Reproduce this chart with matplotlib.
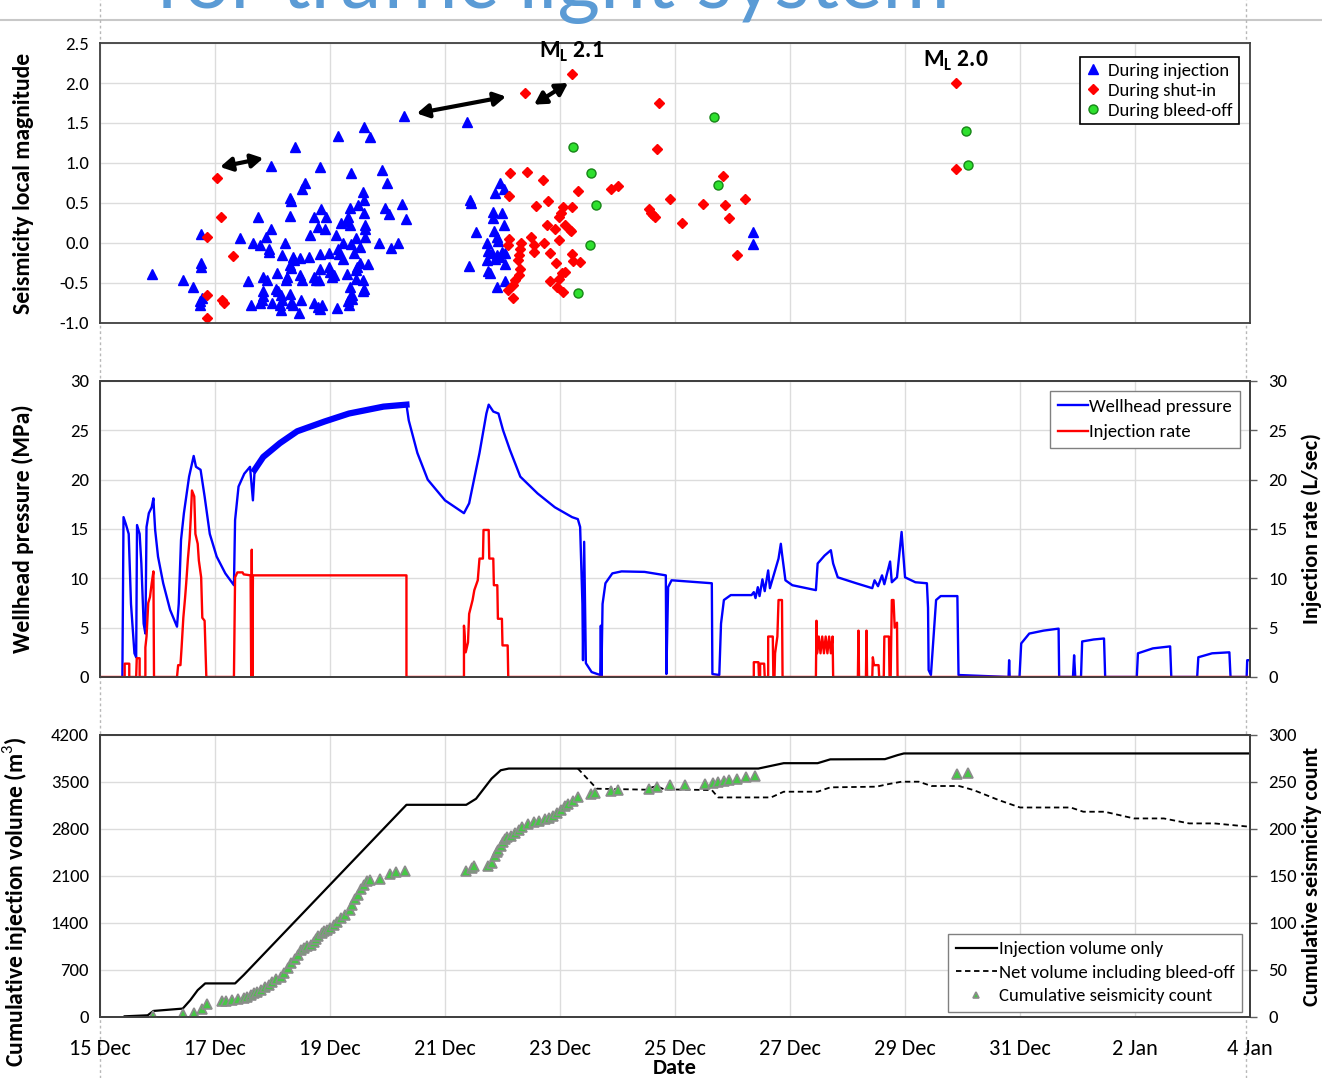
import numpy as np
import matplotlib
matplotlib.use('Agg')
import matplotlib.pyplot as plt
from matplotlib import font_manager
from matplotlib.lines import Line2D

available = {f.name for f in font_manager.fontManager.ttflist}
base_font = next(f for f in ['Liberation Sans Narrow', 'Carlito', 'Liberation Sans', 'DejaVu Sans']
                 if f in available)
title_font = next(f for f in ['Lato', 'Open Sans', 'DejaVu Sans'] if f in available)
plt.rcParams['font.family'] = [base_font, 'DejaVu Sans']
plt.rcParams['mathtext.fontset'] = 'custom'
plt.rcParams['mathtext.rm'] = base_font
plt.rcParams['mathtext.bf'] = base_font + ':bold'

# x values are days after 15 Dec 00:00
tick_days = [0, 2, 4, 6, 8, 10, 12, 14, 16, 18, 20]
tick_labels = ['15 Dec', '17 Dec', '19 Dec', '21 Dec', '23 Dec', '25 Dec',
               '27 Dec', '29 Dec', '31 Dec', '2 Jan', '4 Jan']

# --- seismic events (time, local magnitude) ---
inj_t = [0.91, 1.45, 1.61, 1.75, 1.76, 1.76, 1.77, 1.74, 1.74,
         2.43, 2.57, 2.63, 2.66, 2.74, 2.78, 2.78, 2.83, 2.83, 2.83, 2.82, 2.88, 2.90, 2.94, 2.94, 2.97, 2.97,
         3.00, 3.06, 3.08, 3.10, 3.13, 3.14, 3.15, 3.16, 3.17, 3.21, 3.23, 3.26, 3.30, 3.32, 3.30, 3.30, 3.32,
         3.30, 3.33, 3.36, 3.36, 3.37, 3.39, 3.47, 3.48, 3.48, 3.49, 3.52, 3.52, 3.57,
         3.64, 3.66, 3.72, 3.72, 3.73, 3.76, 3.80, 3.80, 3.81, 3.82, 3.83, 3.83, 3.83, 3.84, 3.87, 3.92, 3.93,
         3.98, 3.99, 4.00,
         4.03, 4.07, 4.10, 4.12, 4.14, 4.14, 4.16, 4.20, 4.22, 4.23, 4.29, 4.29, 4.32, 4.32, 4.33, 4.34, 4.34,
         4.34, 4.35, 4.36, 4.37, 4.38, 4.39, 4.41, 4.45, 4.46, 4.46, 4.47, 4.49, 4.52, 4.53, 4.57, 4.58, 4.58,
         4.59, 4.59, 4.59, 4.59, 4.61, 4.61, 4.61, 4.66, 4.70,
         4.86, 4.90, 4.96, 4.99, 5.03, 5.06, 5.19, 5.26, 5.29, 5.32,
         6.39, 6.41, 6.43, 6.45, 6.54, 6.73, 6.73, 6.75, 6.75, 6.78, 6.81, 6.84, 6.84, 6.85, 6.87, 6.87, 6.90,
         6.90, 6.90, 6.93, 6.96, 6.96, 6.99, 7.00, 7.02, 7.03, 7.04, 7.04, 7.04,
         11.35, 11.36]
inj_m = [-0.39, -0.46, -0.55, 0.11, -0.25, -0.30, -0.69, -0.73, -0.78,
         0.06, -0.48, -0.78, 0.00, 0.32, -0.02, -0.75, -0.43, -0.60, -0.66, -0.71, 0.08, -0.46, -0.07, -0.11,
         0.18, 0.96,
         -0.75, -0.57, -0.38, -0.60, -0.78, -0.84, -0.65, -0.71, -0.15, 0.00, -0.46, -0.43, 0.56, 0.52, 0.34,
         -0.28, -0.31, -0.64, -0.75, -0.78, -0.17, -0.21, 1.20, -0.88, -0.19, -0.40, -0.71, -0.46, 0.68, 0.75,
         -0.18, 0.10, -0.43, -0.75, 0.32, -0.46, 0.20, -0.80, -0.46, 0.95, -0.14, -0.32, -0.82, 0.43, -0.78,
         0.18, 0.32, -0.30, -0.12, -0.36,
         -0.43, -0.40, 0.10, -0.81, -0.07, 1.34, -0.14, 0.25, 0.00, -0.20, 0.27, -0.39, 0.33, -0.73, -0.78,
         0.44, -0.55, -0.67, 0.23, -0.01, 0.88, -0.65, -0.70, -0.13, -0.34, 0.06, -0.45, -0.30, 0.47, -0.25,
         -0.05, -0.60, 0.64, -0.46, 0.54, 0.38, -0.57, 1.45, 0.23, 0.18, 0.08, -0.26, 1.32,
         0.00, 0.91, 0.44, 0.75, 0.36, -0.06, 0.00, 0.49, 1.59, 0.30,
         1.51, -0.29, 0.54, 0.50, 0.14, 0.00, -0.21, -0.10, -0.35, -0.38, -0.13, 0.39, 0.31, 0.15, 0.62, -0.20,
         0.08, -0.15, -0.55, 0.02, 0.75, -0.18, -0.11, 0.38, 0.23, 0.68, -0.12, -0.26, -0.48,
         0.14, -0.01]

shut_t = [1.86, 1.87, 1.87, 2.03, 2.10, 2.12, 2.16, 2.32,
          7.10, 7.10, 7.11, 7.12, 7.13, 7.19, 7.19, 7.22, 7.27, 7.29, 7.29, 7.30, 7.30, 7.32, 7.39, 7.43, 7.50,
          7.54, 7.55, 7.58, 7.71, 7.73, 7.77, 7.80, 7.83, 7.83, 7.91, 7.93, 7.94, 7.98, 7.98, 7.99, 8.02, 8.04,
          8.06, 8.06, 8.09, 8.09, 8.17, 8.19, 8.20, 8.21, 8.21, 8.23, 8.32, 8.34,
          8.88, 9.01, 9.54, 9.58, 9.62, 9.66, 9.69, 9.73, 9.91, 10.13, 10.49, 10.84, 10.87, 10.94, 11.08, 11.22,
          14.89, 14.89]
shut_m = [-0.65, 0.07, -0.94, 0.81, 0.32, -0.71, -0.75, -0.16,
          -0.59, -0.03, 0.05, 0.59, 0.88, -0.53, -0.69, -0.46, -0.21, -0.15, -0.40, -0.07, -0.32, 0.00, 1.87,
          0.89, 0.07, -0.11, -0.02, 0.46, 0.79, 0.00, 0.22, 0.52, -0.12, -0.48, 0.18, -0.25, -0.55, 0.32, 0.04,
          -0.45, 0.38, -0.38, 0.45, -0.61, 0.23, -0.36, 0.16, 0.15, 2.11, 0.45, -0.14, -0.23, 0.65, -0.24,
          0.68, 0.71, 0.43, 0.38, 0.35, 0.32, 1.17, 1.75, 0.55, 0.25, 0.49, 0.84, 0.48, 0.31, -0.15, 0.55,
          2.00, 0.93]

bleed_t = [8.23, 8.31, 8.52, 8.54, 8.63, 10.67, 10.74, 15.06, 15.10]
bleed_m = [1.20, -0.62, -0.02, 0.88, 0.47, 1.57, 0.72, 1.40, 0.98]

# largest events and the arrows between successive events
big_events = [(8.20, 2.11, 'M$_{\\mathbf{L}}$ 2.1'), (14.89, 2.00, 'M$_{\\mathbf{L}}$ 2.0')]
arrows = [((2.09, 0.95), (2.84, 1.06)), ((5.51, 1.62), (7.06, 1.83)), ((7.55, 1.73), (8.14, 2.00))]

# --- wellhead pressure (MPa) ---
p_t = [0.39, 0.41, 0.45, 0.50, 0.54, 0.60, 0.63, 0.645, 0.69, 0.72, 0.76, 0.79, 0.81, 0.85, 0.90, 0.93, 0.94,
       0.96, 1.01, 1.10, 1.22, 1.34, 1.37, 1.41, 1.46, 1.55, 1.63, 1.67, 1.75, 1.82, 1.91, 2.03, 2.18, 2.33,
       2.35, 2.41, 2.51, 2.61, 2.66, 2.69, 2.84, 3.13, 3.43, 3.91, 4.33, 4.93, 5.33, 5.37, 5.52, 5.70, 6.00,
       6.33, 6.42, 6.60, 6.72, 6.76, 6.84, 6.93, 7.01, 7.13, 7.31, 7.61, 7.91, 8.21, 8.31, 8.35, 8.39, 8.40,
       8.42, 8.45, 8.55, 8.70, 8.71, 8.72, 8.74, 8.79, 8.91, 9.07, 9.47, 9.84, 9.85, 9.88, 9.94, 10.18, 10.64,
       10.65, 10.77, 10.80, 10.85, 10.97, 11.33, 11.37, 11.40, 11.44, 11.47, 11.52, 11.56, 11.62, 11.65, 11.80,
       11.84, 11.86, 11.92, 12.04, 12.45, 12.48, 12.60, 12.71, 12.75, 12.83, 13.15, 13.43, 13.47, 13.53, 13.60,
       13.64, 13.74, 13.77, 13.86, 13.94, 14.00, 14.18, 14.38, 14.40, 14.41, 14.45, 14.54, 14.62, 14.91, 14.93,
       15.80, 15.81, 15.82, 15.99, 16.02, 16.16, 16.41, 16.67, 16.68, 16.92, 16.94, 16.96, 17.06, 17.08, 17.28,
       17.46, 17.48, 18.03, 18.05, 18.31, 18.61, 18.63, 19.08, 19.10, 19.34, 19.64, 19.66, 19.94, 19.95, 20.0]
p_v = [0.0, 16.2, 15.5, 14.5, 7.4, 2.4, 2.0, 15.4, 14.5, 11.5, 5.4, 4.4, 15.2, 16.6, 17.2, 18.1, 16.9,
       14.9, 12.2, 9.5, 6.8, 5.1, 7.4, 13.9, 16.6, 20.3, 22.4, 21.3, 21.0, 18.3, 14.5, 12.2, 10.5, 9.3,
       15.9, 19.3, 20.6, 21.3, 17.9, 21.0, 22.3, 23.7, 24.9, 25.9, 26.7, 27.4, 27.6, 26.0, 22.7, 20.0, 17.9,
       16.6, 17.6, 22.7, 26.7, 27.6, 26.9, 26.7, 25.0, 23.0, 20.3, 18.6, 17.2, 16.2, 16.0, 15.2, 7.4, 1.7,
       13.7, 1.4, 0.5, 0.2, 5.2, 0.1, 7.4, 9.5, 10.5, 10.7, 10.65, 10.3, 0.3, 9.1, 9.8, 9.7, 9.5,
       0.3, 0.2, 5.4, 7.8, 8.3, 8.3, 8.6, 8.0, 9.1, 8.2, 9.9, 8.7, 10.8, 9.0, 12.0,
       13.5, 12.5, 9.8, 9.3, 8.8, 11.5, 12.3, 12.85, 11.5, 10.1, 9.5, 9.0, 9.8, 9.2, 10.3,
       9.4, 11.7, 9.6, 10.1, 14.7, 10.1, 9.6, 9.5, 7.0, 0.7, 0.2, 7.8, 8.2, 8.2, 0.2,
       0.0, 1.7, 0.0, 0.0, 3.4, 4.4, 4.7, 4.9, 0.0, 0.0, 2.2, 0.0, 0.0, 3.6, 3.8,
       3.9, 0.0, 0.0, 2.4, 2.9, 3.1, 0.0, 0.0, 2.0, 2.4, 2.5, 0.0, 0.0, 1.7, 1.7]

# --- injection rate (L/sec) ---
r_t = [0.0, 0.43, 0.43, 0.51, 0.51, 0.63, 0.64, 0.69, 0.69, 0.79, 0.79, 0.81, 0.84, 0.87, 0.90, 0.93, 0.94,
       1.34, 1.36, 1.40, 1.42, 1.45, 1.48, 1.50, 1.53, 1.56, 1.58, 1.60, 1.64, 1.66, 1.70, 1.72, 1.76, 1.78,
       1.82, 1.85, 2.33, 2.35, 2.39, 2.48, 2.50, 2.62, 2.63, 2.64, 2.65, 2.66, 5.33, 5.33,
       6.33, 6.33, 6.36, 6.40, 6.42, 6.48, 6.51, 6.57, 6.60, 6.66, 6.67, 6.76, 6.77, 6.84, 6.85, 6.91, 6.92,
       6.99, 7.00, 7.09, 7.10,
       11.37, 11.37, 11.45, 11.46, 11.48, 11.48, 11.55, 11.56, 11.62, 11.62, 11.70, 11.71, 11.73, 11.74, 11.78,
       11.80, 11.86, 11.87,
       12.45, 12.46, 12.47, 12.50, 12.53, 12.56, 12.59, 12.62, 12.65, 12.68, 12.71, 12.74, 12.75,
       13.18, 13.19, 13.20, 13.32, 13.33, 13.34, 13.43, 13.44, 13.46, 13.54, 13.55, 13.63, 13.64, 13.72, 13.73,
       13.75, 13.77, 13.80, 13.82, 13.86, 13.87, 20.0]
r_v = [0.0, 0.0, 1.35, 1.35, 0.0, 0.0, 1.9, 1.9, 0.0, 0.0, 3.0, 4.1, 7.5, 8.1, 9.5, 10.7, 0.0,
       0.0, 1.2, 1.2, 3.0, 6.0, 8.0, 9.5, 12.0, 14.0, 16.2, 18.9, 18.3, 14.5, 13.5, 11.8, 10.1, 6.0,
       5.7, 0.0, 0.0, 10.1, 10.6, 10.6, 10.4, 10.3, 0.0, 12.9, 0.0, 10.3, 10.3, 0.0,
       0.0, 5.2, 2.5, 3.5, 6.4, 7.8, 8.8, 9.8, 12.0, 12.0, 14.9, 14.9, 12.0, 12.0, 9.3, 9.3, 5.9,
       5.9, 3.2, 3.2, 0.0,
       0.0, 1.5, 1.5, 0.0, 0.0, 1.35, 1.35, 0.0, 0.0, 4.1, 4.1, 0.0, 0.0, 2.4, 4.1,
       7.8, 7.8, 0.0,
       0.0, 5.7, 2.4, 4.1, 2.4, 4.1, 2.4, 4.1, 2.4, 4.1, 2.4, 4.1, 0.0,
       0.0, 4.7, 0.0, 0.0, 4.7, 0.0, 0.0, 2.0, 1.2, 1.2, 0.0, 0.0, 4.1, 4.1, 0.0,
       0.0, 7.8, 7.8, 5.0, 5.5, 0.0, 0.0]

# --- cumulative volumes (m3) ---
vol_t = [0.43, 0.83, 0.93, 1.44, 1.57, 1.70, 1.83, 2.35, 2.50, 5.33, 6.37, 6.54, 6.81, 6.97, 7.11,
         11.45, 11.67, 11.89, 12.48, 12.70, 13.65, 13.87, 13.98, 20.0]
vol_v = [10, 25, 90, 125, 250, 400, 500, 500, 625, 3160, 3160, 3250, 3550, 3675, 3700,
         3700, 3740, 3780, 3780, 3837, 3840, 3900, 3925, 3925]

net_t = [8.31, 8.64, 9.51, 9.60, 9.68, 9.81, 10.64, 10.75, 11.67, 11.89, 12.48, 12.70, 13.50, 13.72, 13.94,
         14.24, 14.46, 14.94, 15.19, 15.63, 16.00, 16.88, 17.10, 17.47, 17.98, 18.50, 18.94, 19.38, 20.0]
net_v = [3700, 3400, 3385, 3420, 3440, 3390, 3380, 3270, 3270, 3355, 3355, 3420, 3430, 3470, 3504,
         3504, 3440, 3440, 3380, 3230, 3120, 3120, 3057, 3057, 2957, 2957, 2883, 2883, 2833]

# --- cumulative seismicity count ---
cnt_t = [0.93, 1.44, 1.63, 1.77, 1.87, 2.13, 2.20, 2.30, 2.40, 2.50, 2.56, 2.63, 2.68, 2.73, 2.80, 2.87,
         2.94, 3.00, 3.07, 3.14, 3.20, 3.27, 3.33, 3.40, 3.45, 3.50, 3.55, 3.60, 3.67, 3.72, 3.76, 3.80,
         3.86, 3.90, 3.94, 4.00, 4.07, 4.13, 4.20, 4.27, 4.34, 4.38, 4.44, 4.49, 4.54, 4.59, 4.64, 4.69,
         4.87, 5.04, 5.14, 5.31,
         6.37, 6.47, 6.50, 6.74, 6.81, 6.87, 6.90, 6.93, 6.97, 7.01, 7.04, 7.07, 7.14, 7.21, 7.28, 7.34,
         7.44, 7.54, 7.64, 7.74, 7.81, 7.88, 7.95, 8.01, 8.08, 8.14, 8.22, 8.31,
         8.54, 8.61, 8.88, 9.00, 9.55, 9.68, 9.91, 10.17, 10.52, 10.66, 10.75, 10.86, 10.94, 11.08, 11.23,
         11.39, 14.91, 15.10]
cnt_v = [1, 3, 4, 8, 14, 17, 17.5, 18, 19, 20, 21, 23, 25, 27, 29, 32,
         34, 37, 40, 43, 47, 52, 57, 62, 66, 71, 73, 75, 77, 80, 83, 86,
         89, 91, 93, 95, 98, 101, 105, 109, 114, 119, 125, 130, 136, 140, 145, 146,
         147, 152, 154, 155,
         155, 159, 161, 161, 164, 171, 175, 178, 182, 186, 189, 191, 193, 196, 199, 202,
         205, 207, 209, 211, 212, 214, 217, 220, 224, 227, 230, 234,
         237, 238, 240, 241, 243, 245, 247, 247, 248, 249, 250, 251, 252, 253, 255,
         256, 258, 260]

p_t = np.array(p_t)
p_v = np.array(p_v)

fig = plt.figure(figsize=(13.22, 10.78), dpi=100)

# slide decorations behind the panels
fig.add_artist(Line2D([0, 1], [0.9814, 0.9814], color='#c8c8c8', lw=1.5, zorder=0))
for xf in (0.0756, 0.9425):
    fig.add_artist(Line2D([xf, xf], [0, 1], color='#b8b8b8', lw=1, ls=(0, (2, 2)), zorder=0))
fig.text(0.117, 0.9925, 'for traffic light system', color='#5b9bd5', fontsize=59,
         family=title_font, va='baseline', ha='left', zorder=0)

ax1 = fig.add_axes([0.0756, 0.7004, 0.870, 0.2597])
ax2 = fig.add_axes([0.0756, 0.3720, 0.870, 0.2746])
ax3 = fig.add_axes([0.0756, 0.0566, 0.870, 0.2616])


def style(ax):
    ax.set_xlim(0, 20)
    ax.set_xticks(tick_days)
    ax.grid(True, color='#dcdcdc', lw=1)
    ax.set_axisbelow(True)
    for s in ax.spines.values():
        s.set_color('#404040')
        s.set_linewidth(1.3)
    ax.tick_params(length=0, labelsize=13.5, pad=8)


for ax in (ax1, ax2, ax3):
    style(ax)

# top panel: event magnitudes
ax1.plot(inj_t, inj_m, ls='none', marker='^', ms=7.5, color='#0000ff', mec='#0000ff',
         label='During injection')
ax1.plot(shut_t, shut_m, ls='none', marker='D', ms=5, color='#ff0000', mec='#ff0000',
         label='During shut-in')
ax1.plot(bleed_t, bleed_m, ls='none', marker='o', ms=6.5, mfc='#2ee02e', mec='#178517', mew=1,
         label='During bleed-off')
ax1.set_ylim(-1.0, 2.5)
ax1.set_yticks(np.arange(-1.0, 2.51, 0.5))
ax1.set_yticklabels(['%.1f' % v for v in np.arange(-1.0, 2.51, 0.5)])
ax1.set_xticklabels([])
ax1.set_ylabel('Seismicity local magnitude', fontsize=17, fontweight='bold')
ax1.yaxis.set_label_coords(-0.057, 0.5)
for t, m, txt in big_events:
    ax1.text(t, m + 0.28, txt, ha='center', va='center', fontsize=17, fontweight='bold')
for start, end in arrows:
    ax1.annotate('', xy=end, xytext=start,
                 arrowprops=dict(arrowstyle='<|-|>,head_length=0.7,head_width=0.4',
                                 color='black', lw=3, shrinkA=0, shrinkB=0))
leg1 = ax1.legend(loc='upper right', bbox_to_anchor=(0.99, 0.95), borderaxespad=0,
                  fontsize=13.5, handlelength=0.8, handletextpad=0.4, labelspacing=0.2,
                  fancybox=False, edgecolor='black', framealpha=1, borderpad=0.3)
leg1.get_frame().set_linewidth(1.2)

# middle panel: pressure and injection rate
ax2.plot(p_t, p_v, color='#0000ff', lw=1.7, label='Wellhead pressure')
noisy = (p_t >= 2.69) & (p_t <= 5.33)
ax2.plot(p_t[noisy], p_v[noisy], color='#0000ff', lw=4.5)
ax2.set_ylim(0, 30)
ax2.set_yticks(range(0, 31, 5))
ax2.set_xticklabels([])
ax2.set_ylabel('Wellhead pressure (MPa)', fontsize=17, fontweight='bold')
ax2.yaxis.set_label_coords(-0.057, 0.5)

ax2r = ax2.twinx()
ax2r.plot(r_t, r_v, color='#ff0000', lw=1.7, label='Injection rate')
ax2r.set_ylim(0, 30)
ax2r.set_yticks(range(0, 31, 5))
ax2r.tick_params(length=5, width=1, color='#606060', labelsize=13.5, pad=8)
for s in ax2r.spines.values():
    s.set_color('#404040')
    s.set_linewidth(1.3)
ax2r.set_ylabel('Injection rate (L/sec)', fontsize=16, fontweight='bold')
ax2r.yaxis.set_label_coords(1.045, 0.5)
h1, l1 = ax2.get_legend_handles_labels()
h2, l2 = ax2r.get_legend_handles_labels()
leg2 = ax2r.legend(h1 + h2, l1 + l2, loc='upper right', bbox_to_anchor=(0.991, 0.966), borderaxespad=0,
                   fontsize=13.5, handlelength=1.6, handletextpad=0.1, labelspacing=0.5,
                   fancybox=False, edgecolor='#808080', framealpha=1, borderpad=0.4)

# bottom panel: cumulative volumes and event count
ax3.plot(vol_t, vol_v, color='black', lw=1.6, label='Injection volume only')
ax3.plot(net_t, net_v, color='black', lw=1.3, ls=(0, (3, 2)), label='Net volume including bleed-off')
ax3.set_ylim(0, 4200)
ax3.set_yticks(range(0, 4201, 700))
ax3.set_xticklabels(tick_labels, fontsize=16)
ax3.tick_params(axis='x', pad=16)
ax3.set_xlabel('Date', fontsize=16, fontweight='bold', labelpad=-1)
ax3.set_ylabel('Cumulative injection volume (m$^3$)', fontsize=17, fontweight='bold')
ax3.yaxis.set_label_coords(-0.062, 0.41)

ax3r = ax3.twinx()
ax3r.plot(cnt_t, cnt_v, ls='none', marker='^', ms=7, mfc='#46c846', mec='#8c8c8c', mew=1.2,
          label='Cumulative seismicity count')
ax3r.set_ylim(0, 300)
ax3r.set_yticks(range(0, 301, 50))
ax3r.tick_params(length=5, width=1, color='#606060', labelsize=13.5, pad=8)
for s in ax3r.spines.values():
    s.set_color('#404040')
    s.set_linewidth(1.3)
ax3r.set_ylabel('Cumulative seismicity count', fontsize=16, fontweight='bold')
ax3r.yaxis.set_label_coords(1.045, 0.5)
h1, l1 = ax3.get_legend_handles_labels()
h2, l2 = ax3r.get_legend_handles_labels()
leg3 = ax3r.legend(h1 + h2, l1 + l2, loc='lower right', bbox_to_anchor=(0.993, 0.018), borderaxespad=0,
                   fontsize=13.5, handlelength=2.2, handletextpad=0.1, labelspacing=0.4, markerscale=0.6,
                   fancybox=False, edgecolor='#808080', framealpha=1, borderpad=0.4)

fig.savefig('out.png', dpi=100)
